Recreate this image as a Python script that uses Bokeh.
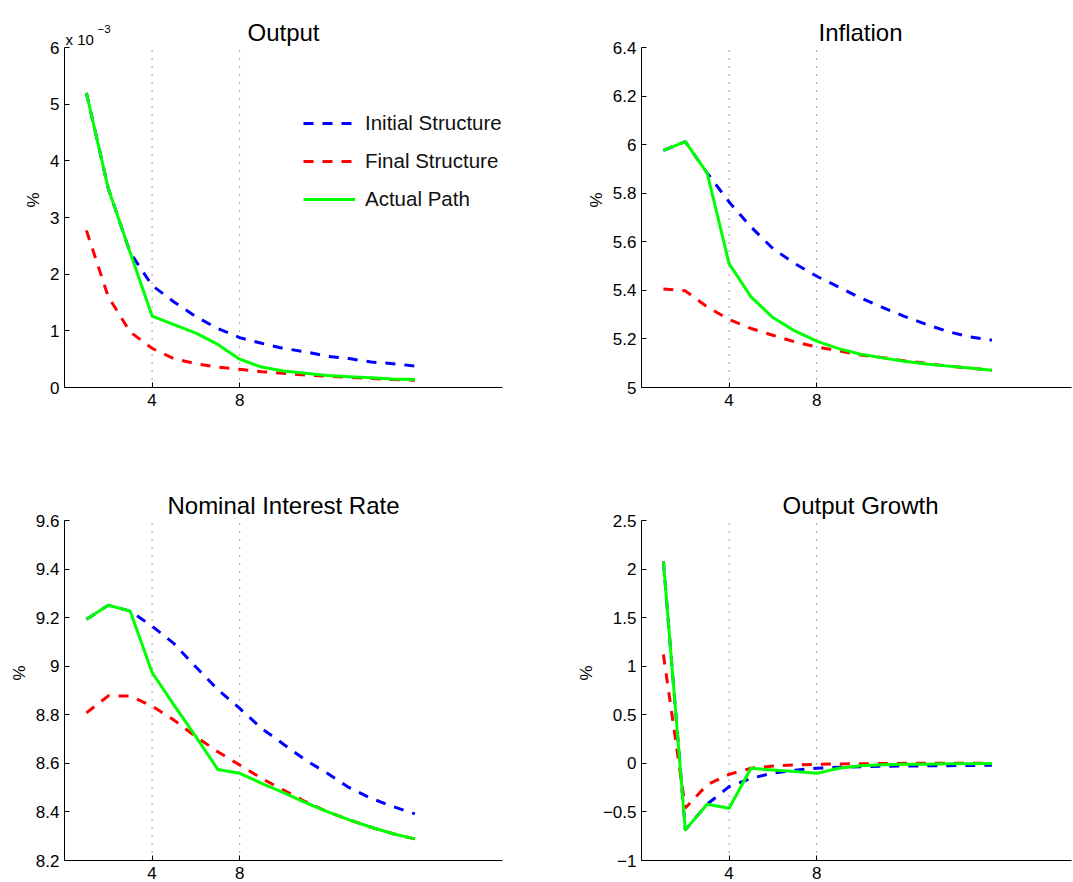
from bokeh.plotting import figure
from bokeh.layouts import column, row
from bokeh.models import (Label, Range1d, FixedTicker, Legend, LegendItem,
                          CustomJSTickFormatter)
from bokeh.embed import file_html
from bokeh.resources import INLINE

# ---------------- data ----------------
periods = list(range(1, 17))
x_ticks = [4, 8]
x_limits = [0, 20]

# Output (in units of 1e-3 %)
output_initial = [5.20, 3.51, 2.38, 1.80, 1.51, 1.25, 1.04, 0.88, 0.78, 0.69, 0.63, 0.55, 0.51, 0.45, 0.42, 0.38]
output_final = [2.77, 1.60, 0.98, 0.69, 0.51, 0.42, 0.36, 0.32, 0.28, 0.25, 0.22, 0.20, 0.18, 0.16, 0.14, 0.13]
output_actual = [5.20, 3.51, 2.38, 1.26, 1.11, 0.96, 0.76, 0.50, 0.36, 0.29, 0.25, 0.21, 0.19, 0.17, 0.15, 0.14]
output_yticks = [0, 1, 2, 3, 4, 5, 6]

inflation_initial = [5.976, 6.012, 5.883, 5.764, 5.661, 5.572, 5.51, 5.458, 5.414, 5.369, 5.33, 5.293, 5.26, 5.23, 5.208, 5.195]
inflation_final = [5.406, 5.398, 5.332, 5.28, 5.243, 5.215, 5.188, 5.167, 5.151, 5.134, 5.123, 5.11, 5.099, 5.088, 5.08, 5.071]
inflation_actual = [5.976, 6.012, 5.883, 5.51, 5.373, 5.288, 5.233, 5.191, 5.160, 5.137, 5.122, 5.108, 5.097, 5.088, 5.080, 5.071]
inflation_yticks = [5.0, 5.2, 5.4, 5.6, 5.8, 6.0, 6.2, 6.4]

interest_initial = [9.193, 9.251, 9.227, 9.165, 9.093, 8.997, 8.904, 8.826, 8.744, 8.679, 8.614, 8.559, 8.5, 8.456, 8.422, 8.392]
interest_final = [8.808, 8.878, 8.877, 8.836, 8.778, 8.71, 8.648, 8.593, 8.538, 8.49, 8.442, 8.401, 8.367, 8.337, 8.31, 8.289]
interest_actual = [9.193, 9.251, 9.227, 8.974, 8.84, 8.71, 8.575, 8.559, 8.518, 8.479, 8.438, 8.401, 8.367, 8.337, 8.31, 8.289]
interest_yticks = [8.2, 8.4, 8.6, 8.8, 9.0, 9.2, 9.4, 9.6]

growth_initial = [2.08, -0.685, -0.42, -0.24, -0.154, -0.10, -0.07, -0.05, -0.04, -0.035, -0.03, -0.028, -0.026, -0.024, -0.022, -0.02]
growth_final = [1.12, -0.46, -0.22, -0.113, -0.05, -0.027, -0.017, -0.01, -0.006, -0.004, -0.002, 0.0, 0.0, 0.0, 0.0, 0.0]
growth_actual = [2.08, -0.685, -0.42, -0.462, -0.051, -0.068, -0.085, -0.103, -0.05, -0.025, -0.014, -0.01, -0.008, -0.005, -0.003, -0.002]
growth_yticks = [-1.0, -0.5, 0.0, 0.5, 1.0, 1.5, 2.0, 2.5]

series_names = ["Initial Structure", "Final Structure", "Actual Path"]

# ---------------- style ----------------
FONT = "Liberation Sans"
BLUE, RED, GREEN = "#0000ff", "#ff0000", "#00ff00"
DASH = "10 9"

fmt_code = """
let s = tick.toFixed(1);
if (s.endsWith('.0')) { s = s.slice(0, -2); }
if (s === '-0') { s = '0'; }
return s.replace('-', '\\u2212');
"""

PX_PER_X = 438 / 20.0      # horizontal pixels per period
EXTRA = 35                 # room kept above each axes box for its title
FRAME_H = 375              # frame height incl. EXTRA (axes box itself = 340 px)


def make_panel(title, initial, final, actual, yticks, width, height,
               bl, br, bt, bb, frame_w):
    ymin, ymax = yticks[0], yticks[-1]
    x_end = frame_w / PX_PER_X
    y_end = ymax + (ymax - ymin) * EXTRA / (FRAME_H - EXTRA)
    p = figure(width=width, height=height, output_backend="svg", toolbar_location=None,
               x_range=Range1d(x_limits[0], x_end), y_range=Range1d(ymin, y_end),
               min_border_left=bl, min_border_right=br, min_border_top=bt,
               min_border_bottom=bb, background_fill_color="white",
               border_fill_color="white", outline_line_color=None,
               title_location=None)
    p.grid.visible = False

    # title, centred over the axes box
    p.add_layout(Label(x=(x_limits[0] + x_limits[1]) / 2, y=ymax, y_offset=15,
                       text=title, text_font=FONT, text_font_size="24px",
                       text_align="center", text_baseline="alphabetic",
                       text_color="black"))

    # dotted vertical guides at the x ticks
    p.segment(x0=x_ticks, y0=[ymin] * len(x_ticks), x1=x_ticks, y1=[ymax] * len(x_ticks),
              line_color="#444444", line_width=1, line_dash="1 7")

    r1 = p.line(periods, initial, line_color=BLUE, line_width=3, line_dash=DASH)
    r2 = p.line(periods, final, line_color=RED, line_width=3, line_dash=DASH)
    r3 = p.line(periods, actual, line_color=GREEN, line_width=3, line_join="round")

    p.xaxis.ticker = FixedTicker(ticks=x_ticks)
    p.xaxis.bounds = (x_limits[0], min(x_limits[1], x_end))
    p.yaxis.ticker = FixedTicker(ticks=yticks)
    p.yaxis.bounds = (ymin, ymax)
    p.yaxis.formatter = CustomJSTickFormatter(code=fmt_code)
    p.yaxis.axis_label = "%"
    for ax in (p.xaxis[0], p.yaxis[0]):
        ax.axis_line_color = "black"
        ax.axis_line_width = 1
        ax.major_tick_in = 5
        ax.major_tick_out = 0
        ax.minor_tick_in = 0
        ax.minor_tick_out = 0
        ax.major_tick_line_color = "black"
        ax.major_label_text_font = FONT
        ax.major_label_text_font_size = "17px"
        ax.major_label_text_color = "black"
        ax.axis_label_text_font = FONT
        ax.axis_label_text_font_size = "17px"
        ax.axis_label_text_font_style = "normal"
        ax.axis_label_text_color = "black"
    p.xaxis.major_label_standoff = 6
    p.yaxis.major_label_standoff = 5
    p.yaxis.axis_label_standoff = 4
    return p, (r1, r2, r3)


# layout geometry (pixels)
LW, RW = 566, 506
TH, BH = 447, 434
L_LEFT, L_FRAME_W = 64, 446          # left column frames: 64 .. 510
R_LEFT, R_FRAME_W = 75, 430          # right column frames: 641 .. 1071
TOP_T, TOP_B = 47 - EXTRA, 60        # top row axes box: 47 .. 387
BOT_T, BOT_B = 73 - EXTRA, 20        # bottom row axes box: 520 .. 860

p1, rs = make_panel("Output", output_initial, output_final, output_actual, output_yticks,
                    LW, TH, L_LEFT, LW - L_LEFT - L_FRAME_W, TOP_T, TOP_B, L_FRAME_W)
p2, _ = make_panel("Inflation", inflation_initial, inflation_final, inflation_actual,
                   inflation_yticks, RW, TH, R_LEFT, RW - R_LEFT - R_FRAME_W, TOP_T, TOP_B,
                   R_FRAME_W)
p3, _ = make_panel("Nominal Interest Rate", interest_initial, interest_final, interest_actual,
                   interest_yticks, LW, BH, L_LEFT, LW - L_LEFT - L_FRAME_W, BOT_T, BOT_B,
                   L_FRAME_W)
p4, _ = make_panel("Output Growth", growth_initial, growth_final, growth_actual,
                   growth_yticks, RW, BH, R_LEFT, RW - R_LEFT - R_FRAME_W, BOT_T, BOT_B,
                   R_FRAME_W)

# exponent label for Output panel
p1.add_layout(Label(x=x_limits[0], y=output_yticks[-1], x_offset=1, y_offset=8, text="x 10",
                    text_font=FONT, text_font_size="15px", text_baseline="alphabetic",
                    text_align="left", text_color="black"))
p1.add_layout(Label(x=x_limits[0], y=output_yticks[-1], x_offset=33, y_offset=19,
                    text="\u22123", text_font=FONT, text_font_size="11.5px",
                    text_baseline="alphabetic", text_align="left", text_color="black"))

legend = Legend(items=[LegendItem(label=n, renderers=[r]) for n, r in zip(series_names, rs)],
                location=(239, 176), orientation="vertical",
                label_text_font=FONT, label_text_font_size="20.5px", label_text_color="#111111",
                glyph_width=52, glyph_height=24, label_height=24, label_standoff=10,
                spacing=14, padding=0, margin=0, border_line_color=None,
                background_fill_alpha=0)
p1.add_layout(legend)

layout = column(row(p1, p2), row(p3, p4))

open("out.html", "w").write(file_html(layout, INLINE))
